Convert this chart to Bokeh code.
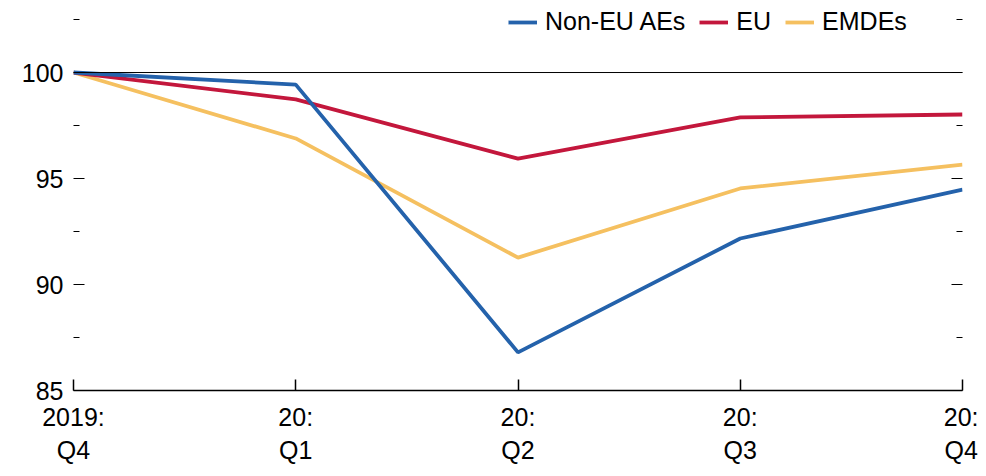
from bokeh.plotting import figure
from bokeh.models import (LinearAxis, FixedTicker, Range1d, Span, Legend,
                          LegendItem)
from bokeh.embed import file_html
from bokeh.resources import INLINE

quarters = ["2019:\nQ4", "20:\nQ1", "20:\nQ2", "20:\nQ3", "20:\nQ4"]
non_eu_aes = [100.0, 99.43, 86.80, 92.17, 94.48]
eu = [100.0, 98.73, 95.94, 97.88, 98.02]
emdes = [100.0, 96.89, 91.27, 94.53, 95.66]

FONT = "Liberation Sans"
FS = "25px"

xs = list(range(len(quarters)))

p = figure(frame_width=889, frame_height=382,
           x_range=Range1d(0, len(quarters) - 1), y_range=Range1d(85, 103.02),
           output_backend="svg", toolbar_location=None,
           min_border_left=73, min_border_right=16, min_border_top=8,
           min_border_bottom=78)
p.outline_line_color = None
p.xgrid.visible = False
p.ygrid.visible = False
p.background_fill_color = "white"

p.add_layout(Span(location=100, dimension="width", line_color="black",
                  line_width=1))

r_y = p.line(xs, emdes, line_color="#f5c060", line_width=3.8)
r_r = p.line(xs, eu, line_color="#c3173c", line_width=3.8)
r_b = p.line(xs, non_eu_aes, line_color="#2462ab", line_width=3.8)

yticks = FixedTicker(ticks=[85, 90, 95, 100],
                     minor_ticks=[87.5, 92.5, 97.5, 102.5])

ax = p.yaxis[0]
ax.ticker = yticks
ax.axis_line_color = None
ax.major_tick_in = 11
ax.major_tick_out = 0
ax.minor_tick_in = 6
ax.minor_tick_out = 0
ax.major_label_standoff = 10
ax.major_label_text_font = FONT
ax.major_label_text_font_size = FS
ax.major_label_text_color = "black"

rax = LinearAxis(ticker=yticks)
rax.axis_line_color = None
rax.major_tick_in = 11
rax.major_tick_out = 0
rax.minor_tick_in = 6
rax.minor_tick_out = 0
rax.major_label_text_font_size = "0px"
rax.major_label_text_color = None
p.add_layout(rax, "right")

xa = p.xaxis[0]
xa.ticker = FixedTicker(ticks=xs, minor_ticks=[])
xa.major_label_overrides = {i: q for i, q in enumerate(quarters)}
xa.major_tick_in = 11
xa.major_tick_out = 0
xa.minor_tick_in = 0
xa.minor_tick_out = 0
xa.axis_line_width = 1.5
xa.major_tick_line_width = 1.5
xa.major_label_standoff = 12
xa.major_label_text_font = FONT
xa.major_label_text_font_size = FS
xa.major_label_text_color = "black"

legend = Legend(items=[LegendItem(label="Non-EU AEs", renderers=[r_b]),
                       LegendItem(label="EU", renderers=[r_r]),
                       LegendItem(label="EMDEs", renderers=[r_y])],
                orientation="horizontal", location=(435, 354),
                padding=0, margin=0, spacing=14, label_standoff=8,
                glyph_width=29, label_text_font=FONT, label_text_font_size=FS,
                label_text_color="black", border_line_color=None,
                background_fill_alpha=0)
p.add_layout(legend, "center")

open("out.html", "w").write(file_html(p, INLINE))
